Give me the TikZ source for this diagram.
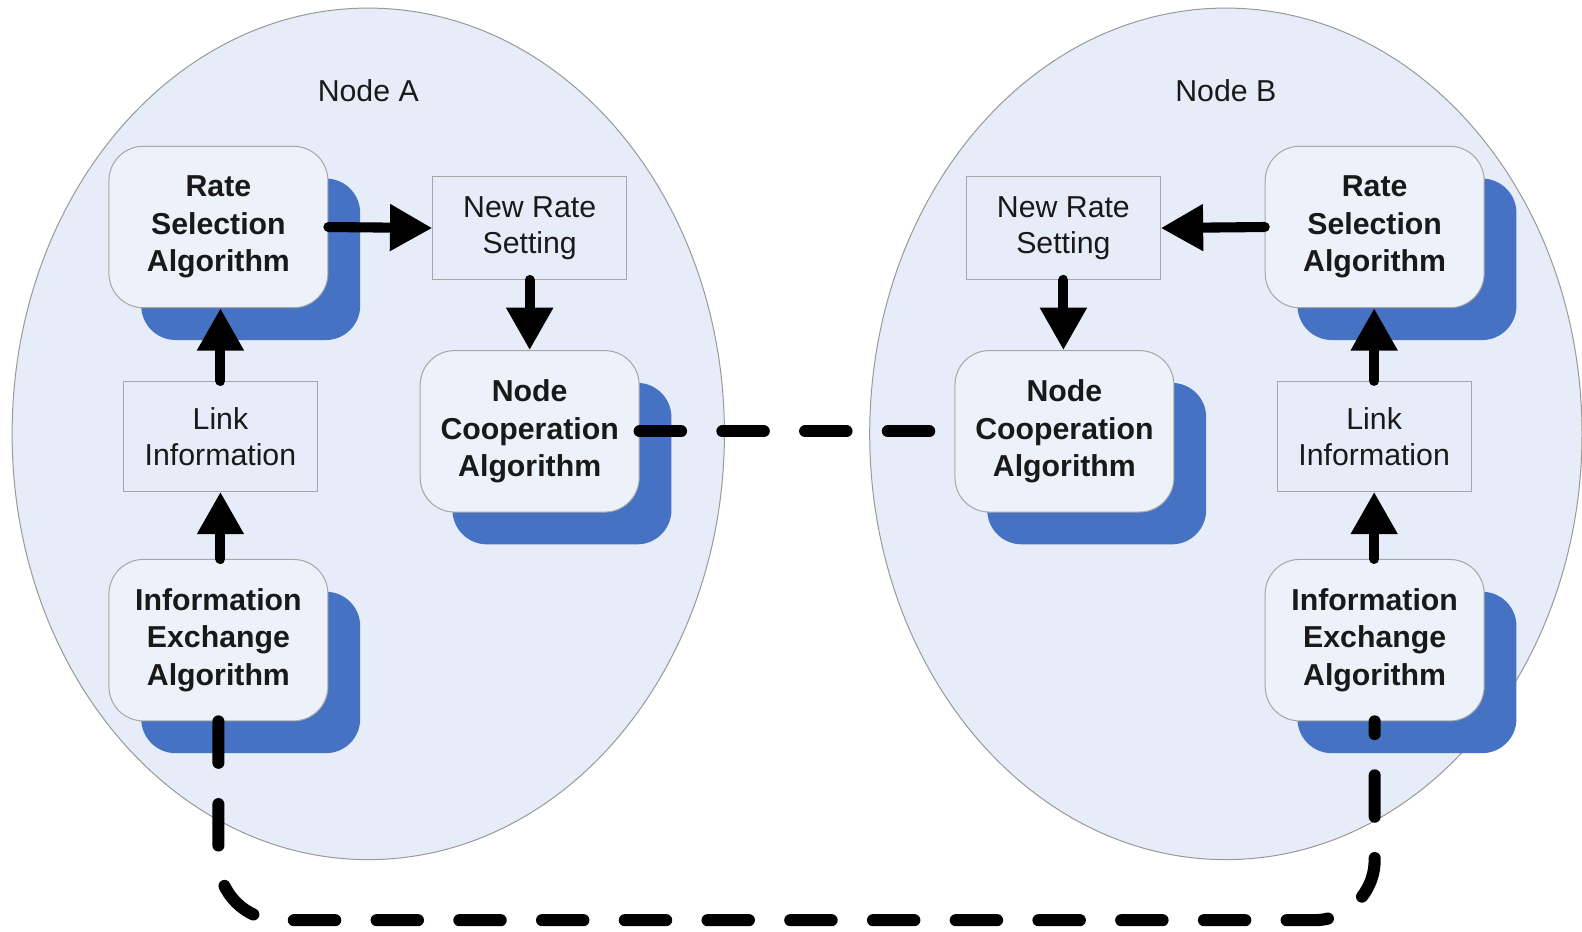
\documentclass[tikz,border=0pt]{standalone}
\usepackage{fontspec}
\setmainfont{Liberation Sans}
\usetikzlibrary{arrows.meta,shapes.geometric,shadows}
\definecolor{zonefill}{RGB}{231,237,248}
\definecolor{boxfill}{RGB}{236,241,250}
\definecolor{shadeblue}{RGB}{70,114,196}
\definecolor{textgray}{RGB}{25,25,25}

\tikzset{
  zone/.style={ellipse, draw=gray!80, fill=zonefill, line width=0.5pt,
    minimum width=353pt, minimum height=422pt, inner sep=0pt},
  algo/.style={rounded corners=17pt, draw=gray!70, fill=boxfill, line width=0.5pt,
    minimum width=108.5pt, minimum height=80pt, align=center, inner sep=0pt,
    font=\fontsize{15}{18.5}\selectfont\bfseries, text=textgray,
    general shadow={shadow xshift=16pt, shadow yshift=-16pt, fill=shadeblue, draw=none}},
  info/.style={rectangle, draw=gray!70, fill=zonefill, line width=0.5pt,
    minimum width=96pt, minimum height=51pt, align=center, inner sep=0pt,
    font=\fontsize{15}{18}\selectfont, text=textgray},
  flow/.style={line width=5pt, line cap=round, -{Triangle[length=21pt,width=22pt]}},
  coop/.style={line width=6pt, line cap=round, dash pattern=on 20.5pt off 20.5pt}
}

\begin{document}
\begin{tikzpicture}[x=0.5pt, y=-0.5pt]
  \useasboundingbox (0,0) rectangle (1568,923);

  \node[zone] (zoneA) at (365,430) {};
  \node[zone] (zoneB) at (1215,430) {};
  \node[font=\fontsize{15}{18}\selectfont, text=textgray] (labA) at (365,90) {Node A};
  \node[font=\fontsize{15}{18}\selectfont, text=textgray] (labB) at (1215,90) {Node B};

  % node A
  \node[algo] (rsA) at (216.5,225) {Rate\\Selection\\Algorithm};
  \node[info] (nrA) at (525,226) {New Rate\\Setting};
  \node[info, minimum height=54.5pt] (lkA) at (218.5,432.5) {Link\\Information};
  \node[algo] (ncA) at (525,427.5) {Node\\Cooperation\\Algorithm};
  \node[algo] (ieA) at (216.5,634.5) {Information\\Exchange\\Algorithm};

  % node B
  \node[algo] (rsB) at (1362.5,225) {Rate\\Selection\\Algorithm};
  \node[info] (nrB) at (1054,226) {New Rate\\Setting};
  \node[info, minimum height=54.5pt] (lkB) at (1362,432.5) {Link\\Information};
  \node[algo] (ncB) at (1055,427.5) {Node\\Cooperation\\Algorithm};
  \node[algo] (ieB) at (1362.5,634.5) {Information\\Exchange\\Algorithm};

  \draw[flow] (rsA.east) -- (nrA.west);
  \draw[flow] (nrA.south) -- (ncA.north);
  \draw[flow] (lkA.north) -- (rsA.south -| lkA.north);
  \draw[flow] (ieA.north -| lkA.south) -- (lkA.south);

  \draw[flow] (rsB.west) -- (nrB.east);
  \draw[flow] (nrB.south) -- (ncB.north -| nrB.south);
  \draw[flow] (lkB.north) -- (rsB.south -| lkB.north);
  \draw[flow] (ieB.north -| lkB.south) -- (lkB.south);

  \draw[coop] (ncA.east) -- (ncB.west);
  \draw[coop, rounded corners=30pt] (ieA.south) -- (ieA.south |- 0,912)
    -- (ieB.south |- 0,912) -- (ieB.south);
\end{tikzpicture}
\end{document}
